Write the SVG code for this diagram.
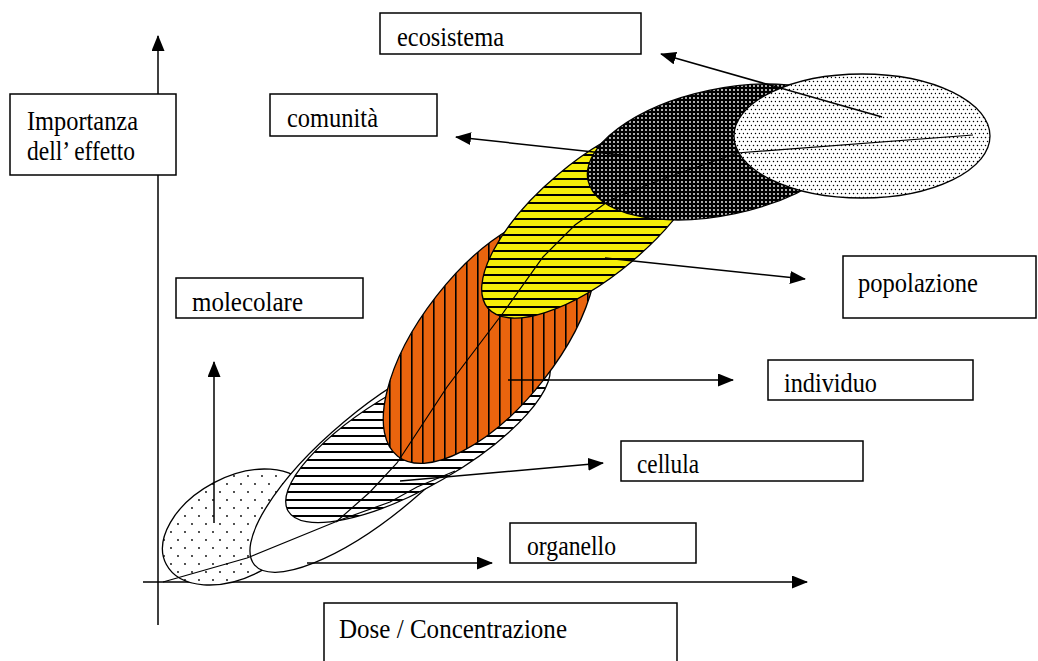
<svg xmlns="http://www.w3.org/2000/svg" width="1038" height="661" viewBox="0 0 1038 661">
<style>
.box{fill:#fff;stroke:#000;stroke-width:1.5}
.lbl{font-family:"Liberation Serif","Times New Roman",serif;font-size:27px;fill:#000}
.ell{fill:none;stroke:#000;stroke-width:1.3}
.ln{fill:none;stroke:#000;stroke-width:1.5}
.thin{fill:none;stroke:#000;stroke-width:1.2}
</style>
<defs>
<marker id="ah" markerWidth="16" markerHeight="13" refX="15" refY="6.5" orient="auto" markerUnits="userSpaceOnUse"><path d="M0,0 L16,6.5 L0,13 z" fill="#000"/></marker>
<pattern id="pSparse" width="14" height="16" patternUnits="userSpaceOnUse"><rect width="14" height="16" fill="#fff"/><circle cx="3" cy="4" r="0.9" fill="#000"/><circle cx="10" cy="12" r="0.9" fill="#000"/></pattern>
<pattern id="pHStripe" width="8" height="8" patternUnits="userSpaceOnUse"><rect width="8" height="8" fill="#fff"/><rect y="3" width="8" height="2" fill="#000"/></pattern>
<pattern id="pYellow" width="8" height="8" patternUnits="userSpaceOnUse"><rect width="8" height="8" fill="#f6ee08"/><rect y="2" width="8" height="2" fill="#000"/></pattern>
<pattern id="pOrange" width="11" height="8" patternUnits="userSpaceOnUse"><rect width="11" height="8" fill="#ea640e"/><rect x="4" width="1.6" height="8" fill="#000"/></pattern>
<pattern id="pDark" width="4" height="4" patternUnits="userSpaceOnUse"><rect width="4" height="4" fill="#000"/><circle cx="2" cy="2" r="0.9" fill="#fff"/></pattern>
<pattern id="pLight" width="8" height="8" patternUnits="userSpaceOnUse"><rect width="8" height="8" fill="#fff"/><circle cx="1.5" cy="1.5" r="0.75" fill="#000"/><circle cx="5.5" cy="1.5" r="0.75" fill="#000"/><circle cx="3.5" cy="5.5" r="0.75" fill="#000"/><circle cx="7.5" cy="5.5" r="0.75" fill="#000"/></pattern>
<clipPath id="cMol"><ellipse cx="237" cy="527" rx="80" ry="50" transform="rotate(-28 237 527)"/></clipPath>
<clipPath id="cCel"><ellipse cx="418" cy="436" rx="150" ry="50" transform="rotate(-30 418 436)"/></clipPath>
<clipPath id="cInd"><ellipse cx="490" cy="338" rx="150" ry="68" transform="rotate(-52 490 338)"/></clipPath>
<clipPath id="cPop"><ellipse cx="595" cy="218" rx="140" ry="57" transform="rotate(-40 595 218)"/></clipPath>
<clipPath id="cCom"><ellipse cx="722" cy="152" rx="137" ry="63" transform="rotate(-12 722 152)"/></clipPath>
<clipPath id="cEco"><ellipse cx="862" cy="136" rx="128" ry="62"/></clipPath>
</defs>
<rect width="1038" height="661" fill="#fff"/>

<g id="axes">
<line class="ln" x1="158" y1="625" x2="158" y2="36" marker-end="url(#ah)"/>
<line class="ln" x1="143" y1="582" x2="807" y2="582" marker-end="url(#ah)"/>
</g>

<g id="ellipses">
<g id="e-molecolare"><rect x="140" y="450" width="200" height="150" fill="url(#pSparse)" clip-path="url(#cMol)"/><ellipse class="ell" cx="237" cy="527" rx="80" ry="50" transform="rotate(-28 237 527)"/></g>
<g id="e-organello"><ellipse class="ell" cx="377" cy="462" rx="160" ry="52" transform="rotate(-40 377 462)" style="fill:#fff"/></g>
<g id="e-cellula"><rect x="260" y="340" width="320" height="200" fill="url(#pHStripe)" clip-path="url(#cCel)"/><ellipse class="ell" cx="418" cy="436" rx="150" ry="50" transform="rotate(-30 418 436)"/></g>
<g id="e-individuo"><rect x="360" y="200" width="260" height="280" fill="url(#pOrange)" clip-path="url(#cInd)"/><ellipse class="ell" cx="490" cy="338" rx="150" ry="68" transform="rotate(-52 490 338)"/></g>
<g id="e-popolazione"><rect x="460" y="110" width="280" height="220" fill="url(#pYellow)" clip-path="url(#cPop)"/><ellipse class="ell" cx="595" cy="218" rx="140" ry="57" transform="rotate(-40 595 218)"/></g>
<g id="e-comunita"><rect x="570" y="70" width="300" height="170" fill="url(#pDark)" clip-path="url(#cCom)"/><ellipse class="ell" cx="722" cy="152" rx="137" ry="63" transform="rotate(-12 722 152)"/></g>
<g id="e-ecosistema"><rect x="720" y="60" width="290" height="150" fill="url(#pLight)" clip-path="url(#cEco)"/><ellipse class="ell" cx="862" cy="136" rx="128" ry="62"/></g>
</g>

<g id="connectors">
<polyline class="thin" points="163,582 247,558 340,520 390,502 417,487 455,471"/>
<polyline class="thin" points="336,522 370,492 397,463 447,387 503,313 543,257 575,225 610,200 660,180 737,153 973,135"/>
<line class="ln" x1="882" y1="117" x2="661" y2="54" marker-end="url(#ah)"/>
<line class="ln" x1="640" y1="157" x2="456" y2="137" marker-end="url(#ah)"/>
<line class="ln" x1="605" y1="258" x2="805" y2="279" marker-end="url(#ah)"/>
<line class="ln" x1="508" y1="380" x2="733" y2="380" marker-end="url(#ah)"/>
<line class="ln" x1="400" y1="481" x2="603" y2="463" marker-end="url(#ah)"/>
<line class="ln" x1="307" y1="563" x2="492" y2="563" marker-end="url(#ah)"/>
<line class="ln" x1="214" y1="523" x2="214" y2="362" marker-end="url(#ah)"/>
</g>

<g id="n-ecosistema"><rect class="box" x="380" y="13" width="261" height="41"/><text class="lbl" x="397" y="46" textLength="107" lengthAdjust="spacingAndGlyphs">ecosistema</text></g>
<g id="n-comunita"><rect class="box" x="270" y="94" width="167" height="42"/><text class="lbl" x="287" y="127" textLength="91" lengthAdjust="spacingAndGlyphs">comunità</text></g>
<g id="n-importanza"><rect class="box" x="10" y="94" width="166" height="81"/><text class="lbl" x="27" y="130" textLength="111" lengthAdjust="spacingAndGlyphs">Importanza</text><text class="lbl" x="27" y="160" textLength="108" lengthAdjust="spacingAndGlyphs">dell’ effetto</text></g>
<g id="n-molecolare"><rect class="box" x="176" y="278" width="187" height="40"/><text class="lbl" x="192" y="311" textLength="111" lengthAdjust="spacingAndGlyphs">molecolare</text></g>
<g id="n-popolazione"><rect class="box" x="843" y="256" width="193" height="62"/><text class="lbl" x="858" y="292" textLength="120" lengthAdjust="spacingAndGlyphs">popolazione</text></g>
<g id="n-individuo"><rect class="box" x="768" y="360" width="205" height="40"/><text class="lbl" x="784" y="392" textLength="93" lengthAdjust="spacingAndGlyphs">individuo</text></g>
<g id="n-cellula"><rect class="box" x="621" y="441" width="242" height="40"/><text class="lbl" x="637" y="473" textLength="62" lengthAdjust="spacingAndGlyphs">cellula</text></g>
<g id="n-organello"><rect class="box" x="510" y="523" width="186" height="40"/><text class="lbl" x="527" y="555" textLength="89" lengthAdjust="spacingAndGlyphs">organello</text></g>
<g id="n-dose"><rect class="box" x="324" y="603" width="353" height="62"/><text class="lbl" x="339" y="638" textLength="228" lengthAdjust="spacingAndGlyphs">Dose / Concentrazione</text></g>
</svg>
